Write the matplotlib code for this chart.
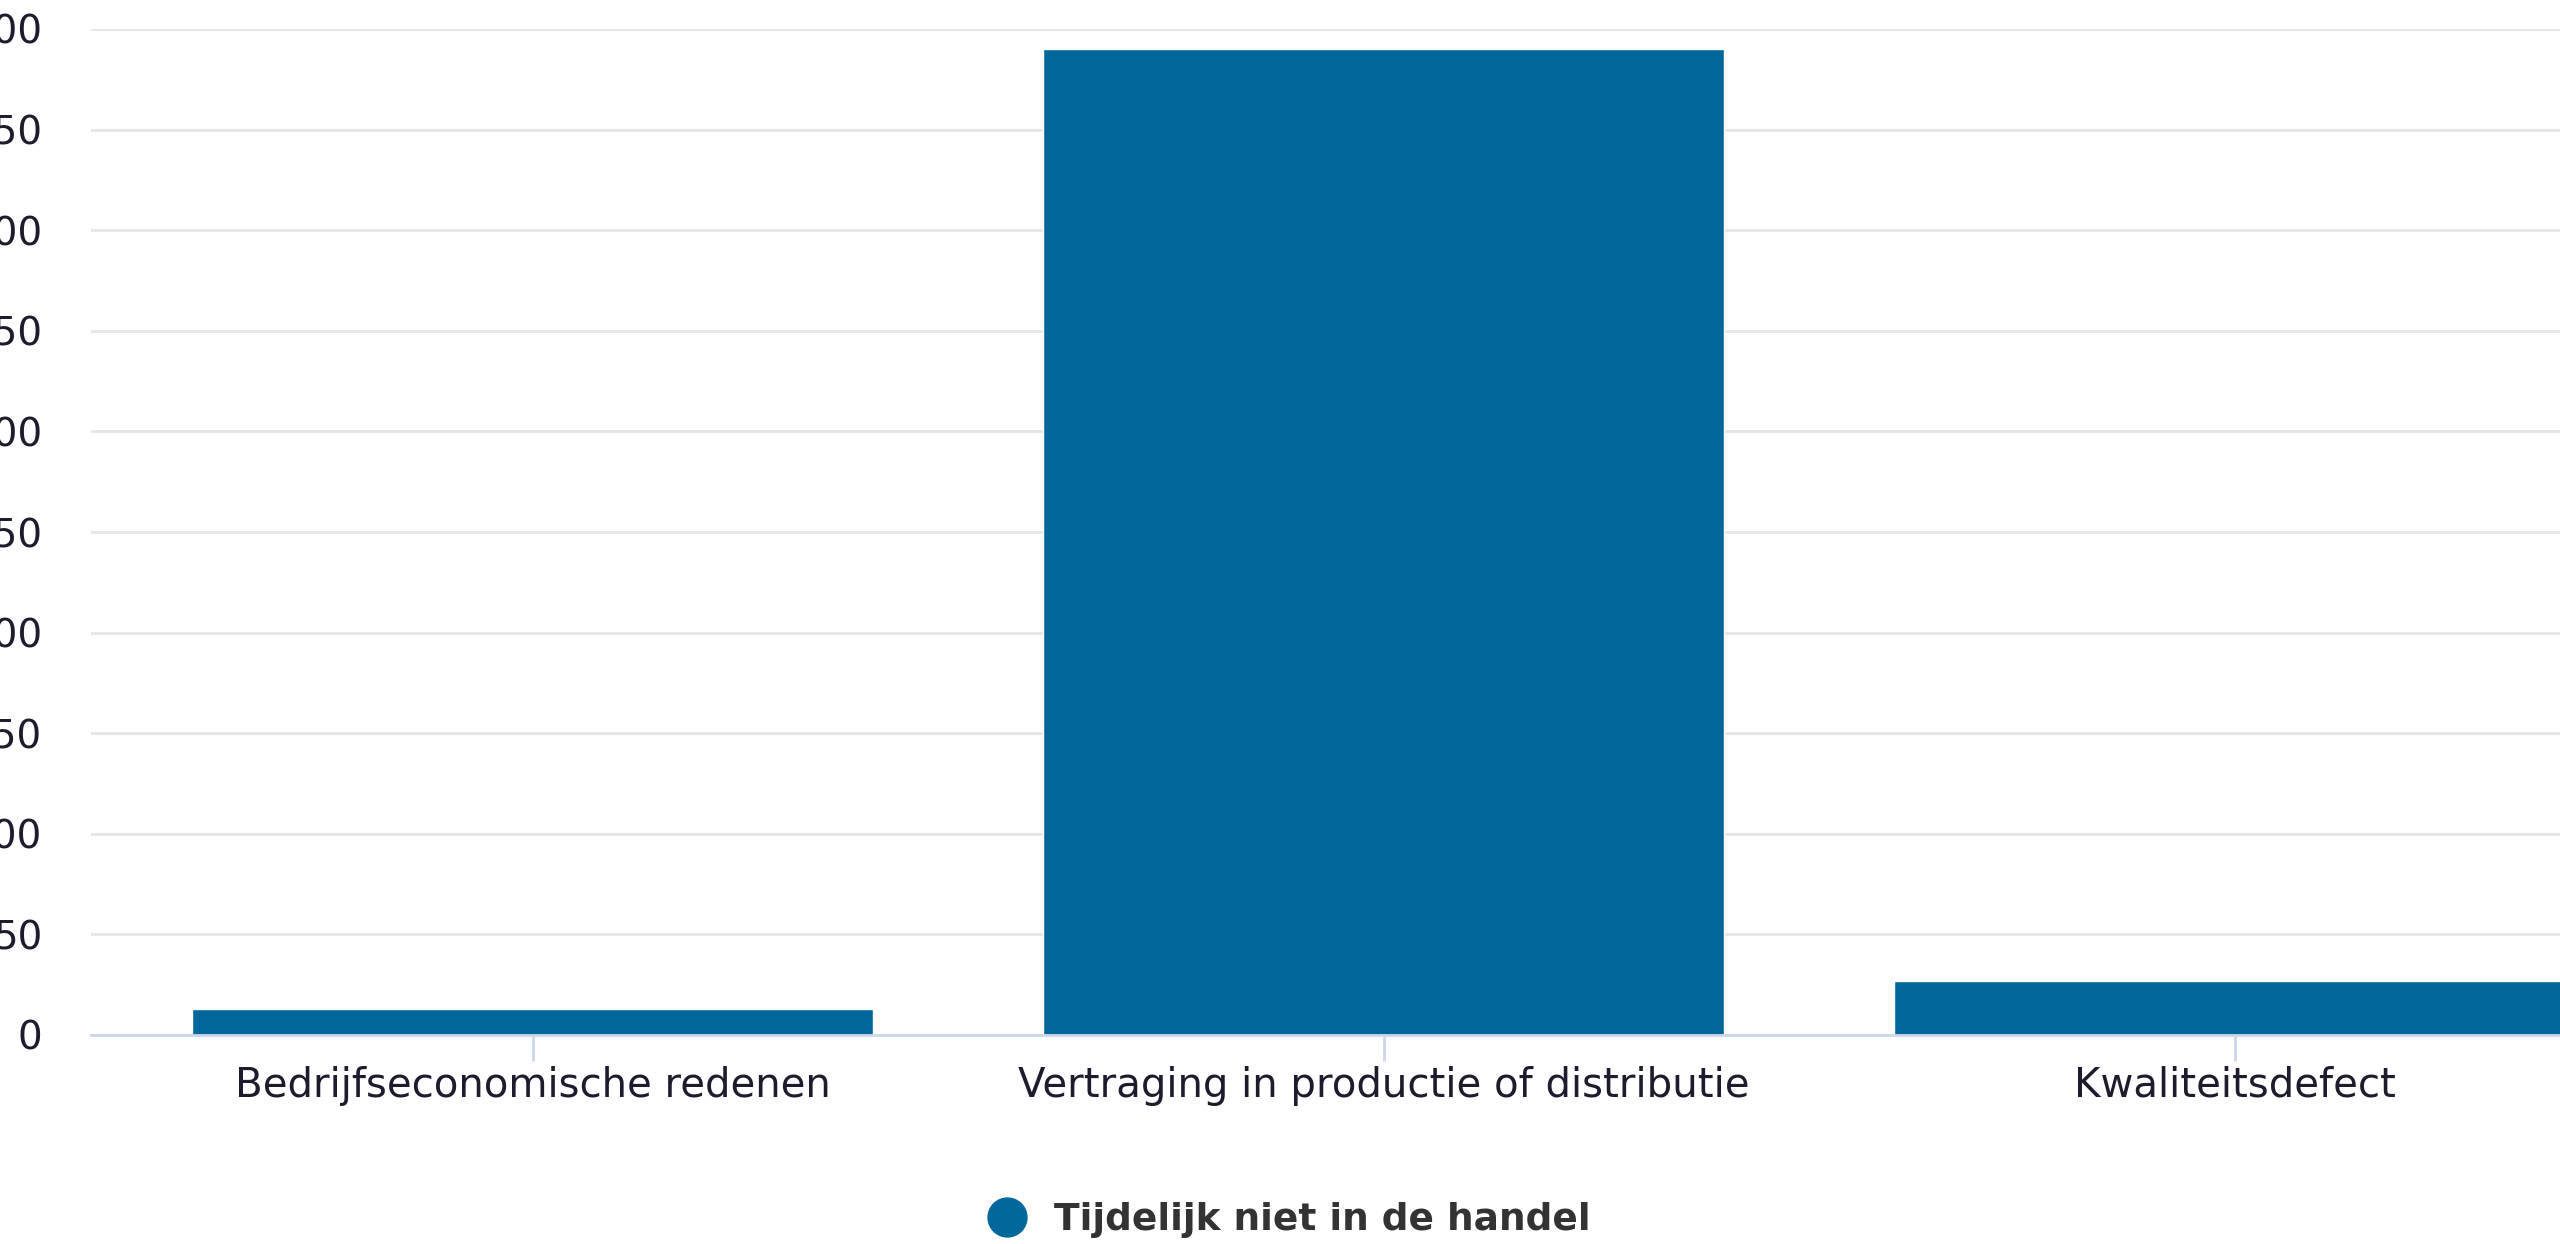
import matplotlib
matplotlib.use('Agg')
import matplotlib.pyplot as plt
from matplotlib.lines import Line2D

categories = ['Bedrijfseconomische redenen', 'Vertraging in productie of distributie', 'Kwaliteitsdefect']
values = [13, 490, 27]
series_name = 'Tijdelijk niet in de handel'
yticks = [0, 50, 100, 150, 200, 250, 300, 350, 400, 450, 500]

bar_color = '#02679b'
text_color = '#1c1c2c'

fig = plt.figure(figsize=(25.6, 12.44), dpi=100)
ax = fig.add_axes([91 / 2560, 209 / 1244, 1 - 91 / 2560, 1006 / 1244])

x = list(range(len(categories)))
ax.bar(x, values, width=0.8, color=bar_color, edgecolor='white', linewidth=1, zorder=3)

ax.set_xlim(-0.519, 2.382)
ax.set_ylim(0, 500)
ax.set_yticks(yticks)
ax.set_yticklabels([str(v) for v in yticks])
ax.set_xticks(x)
ax.set_xticklabels(categories)

ax.grid(axis='y', color='#e6e6e6', linewidth=2, zorder=0)
ax.grid(axis='x', visible=False)
for side in ['top', 'right', 'left']:
    ax.spines[side].set_visible(False)
ax.spines['bottom'].set_color('#ccd6eb')
ax.spines['bottom'].set_linewidth(2)
ax.spines['bottom'].set_zorder(4)

ax.tick_params(axis='y', length=0, pad=35, labelsize=28, labelcolor=text_color)
ax.tick_params(axis='x', length=19, width=2, color='#ccd6eb', pad=3, labelsize=29, labelcolor=text_color)

handle = Line2D([], [], marker='o', linestyle='none', markersize=28, color=bar_color)
leg = fig.legend([handle], [series_name], loc='center', bbox_to_anchor=(0.5, 0.019),
                 frameon=False, handletextpad=0.25, prop={'weight': 'bold', 'size': 27})
for t in leg.get_texts():
    t.set_color('#333333')

fig.savefig('out.png', dpi=100)
